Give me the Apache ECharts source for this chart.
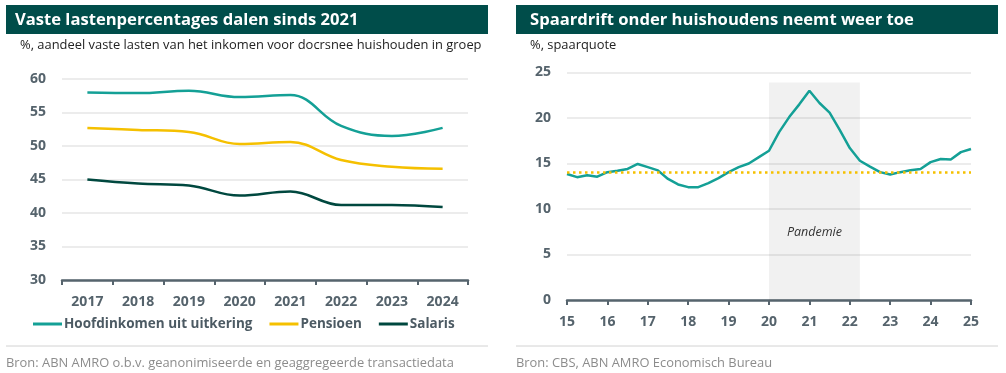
<!DOCTYPE html>
<html>
<head>
<meta charset="utf-8">
<script src="https://cdn.jsdelivr.net/npm/echarts@6/dist/echarts.min.js"></script>
<style>
html,body{margin:0;padding:0;background:#fff;}
#c{width:1006px;height:373px;}
</style>
</head>
<body>
<div id="c"></div>
<script>
// ---- Left chart data ----
var leftYears = ['2017','2018','2019','2020','2021','2022','2023','2024'];
var uitkering = [58.0, 57.9, 58.25, 57.3, 57.6, 53.0, 51.5, 52.7];
var pensioen  = [52.7, 52.4, 52.1, 50.3, 50.6, 47.9, 46.9, 46.6];
var salaris   = [45.0, 44.4, 44.1, 42.6, 43.2, 41.2, 41.2, 40.9];
var leftSeriesNames = ['Hoofdinkomen uit uitkering', 'Pensioen', 'Salaris'];

// ---- Right chart data (quarterly, 2015 K1 .. 2025 K1) ----
var rightYearLabels = ['15','16','17','18','19','20','21','22','23','24','25'];
var spaarquote = [13.85, 13.5, 13.7, 13.55, 14.05, 14.2, 14.4, 14.95, 14.6, 14.25,
                  13.3, 12.7, 12.4, 12.4, 12.85, 13.4, 14.05, 14.6, 15.0, 15.7,
                  16.4, 18.45, 20.1, 21.5, 23.0, 21.65, 20.6, 18.7, 16.7, 15.3,
                  14.65, 14.05, 13.8, 14.05, 14.25, 14.4, 15.15, 15.5, 15.45, 16.25,
                  16.6];
var gemiddelde = 14.05;
var pandemieStart = '20 K1';
var pandemieEnd = '22 K2';
var pandemieTop = 23.9;

var quarterCats = [];
rightYearLabels.forEach(function (y, i) {
  var n = (i === rightYearLabels.length - 1) ? 1 : 4;
  for (var q = 1; q <= n; q++) quarterCats.push(y + ' K' + q);
});

var FONT = '"Open Sans", sans-serif';
var TITLE_BG = '#004d4a';
var TEAL = '#14a096';
var YELLOW = '#f5c000';
var DARK = '#00483f';
var AXIS = '#56646d';
var LABEL = '#55636c';
var GRID = '#e6e6e6';

var chart = echarts.init(document.getElementById('c'), null, {renderer: 'canvas'});

var axisLabelStyle = {color: LABEL, fontFamily: FONT, fontWeight: 'bold', fontSize: 14};

chart.setOption({
  animation: false,
  textStyle: {fontFamily: FONT},
  grid: [
    {left: 62, top: 79, width: 406, height: 201, containLabel: false},
    {left: 567, top: 72.5, width: 404, height: 227.5, containLabel: false}
  ],
  legend: {
    left: 28, top: 312,
    icon: 'rect', itemWidth: 29, itemHeight: 3, itemGap: 17,
    textStyle: {color: '#4c5a63', fontFamily: FONT, fontWeight: 'bold', fontSize: 13.5, padding: [0, 0, 0, -3]},
    data: leftSeriesNames
  },
  xAxis: [
    {
      type: 'category', gridIndex: 0, data: leftYears, boundaryGap: true,
      axisLine: {show: true, lineStyle: {color: AXIS, width: 2.5}},
      axisTick: {show: true, length: 5, lineStyle: {color: AXIS, width: 2}},
      axisLabel: Object.assign({margin: 15}, axisLabelStyle)
    },
    {
      type: 'category', gridIndex: 1, data: quarterCats, boundaryGap: false,
      axisLine: {show: true, lineStyle: {color: AXIS, width: 2.5}},
      axisTick: {show: true, length: 5, lineStyle: {color: AXIS, width: 2},
        interval: function (i) { return i % 4 === 0; }},
      axisLabel: Object.assign({margin: 15,
        interval: function (i) { return i % 4 === 0; },
        formatter: function (v) { return v.split(' ')[0]; }}, axisLabelStyle)
    }
  ],
  yAxis: [
    {
      type: 'value', gridIndex: 0, min: 30, max: 60, interval: 5,
      axisLine: {show: false}, axisTick: {show: false},
      splitLine: {lineStyle: {color: GRID, width: 1.5}},
      axisLabel: Object.assign({margin: 16}, axisLabelStyle)
    },
    {
      type: 'value', gridIndex: 1, min: 0, max: 25, interval: 5,
      axisLine: {show: false}, axisTick: {show: false},
      splitLine: {lineStyle: {color: GRID, width: 1.5}},
      axisLabel: Object.assign({margin: 16}, axisLabelStyle)
    }
  ],
  series: [
    {name: leftSeriesNames[0], type: 'line', xAxisIndex: 0, yAxisIndex: 0, data: uitkering,
     smooth: 0.4, showSymbol: false, lineStyle: {color: TEAL, width: 2.5}, itemStyle: {color: TEAL}},
    {name: leftSeriesNames[1], type: 'line', xAxisIndex: 0, yAxisIndex: 0, data: pensioen,
     smooth: 0.4, showSymbol: false, lineStyle: {color: YELLOW, width: 2.5}, itemStyle: {color: YELLOW}},
    {name: leftSeriesNames[2], type: 'line', xAxisIndex: 0, yAxisIndex: 0, data: salaris,
     smooth: 0.4, showSymbol: false, lineStyle: {color: DARK, width: 2.5}, itemStyle: {color: DARK}},
    {name: 'Spaarquote', type: 'line', xAxisIndex: 1, yAxisIndex: 1, data: spaarquote,
     showSymbol: false, lineStyle: {color: TEAL, width: 2.5}, itemStyle: {color: TEAL}, z: 3,
     markArea: {
       silent: true,
       itemStyle: {color: 'rgba(0,0,0,0.055)'},
       label: {show: true, position: 'insideBottom', distance: 61, fontStyle: 'italic',
               fontSize: 12.5, color: '#333', fontFamily: FONT},
       data: [[{name: 'Pandemie', xAxis: pandemieStart, yAxis: 0},
               {xAxis: pandemieEnd, yAxis: pandemieTop}]]
     },
     markLine: {
       silent: true, symbol: 'none', label: {show: false},
       lineStyle: {color: YELLOW, width: 2.5, type: [2.5, 3.5]},
       data: [{yAxis: gemiddelde}]
     }
    }
  ],
  graphic: [
    {type: 'rect', shape: {x: 6, y: 5, width: 482, height: 29}, style: {fill: TITLE_BG}, z: 0},
    {type: 'rect', shape: {x: 516, y: 5, width: 482, height: 29}, style: {fill: TITLE_BG}, z: 0},
    {type: 'text', x: 15, y: 20, z: 1, style: {text: 'Vaste lastenpercentages dalen sinds 2021',
      fill: '#fff', font: 'bold 16.6px ' + FONT, verticalAlign: 'middle', textVerticalAlign: 'middle'}},
    {type: 'text', x: 530, y: 20, z: 1, style: {text: 'Spaardrift onder huishoudens neemt weer toe',
      fill: '#fff', font: 'bold 16.6px ' + FONT, verticalAlign: 'middle', textVerticalAlign: 'middle'}},
    {type: 'text', x: 20, y: 45, z: 1, style: {text: '%, aandeel vaste lasten van het inkomen voor docrsnee huishouden in groep',
      fill: '#222', font: '12.9px ' + FONT, verticalAlign: 'middle', textVerticalAlign: 'middle'}},
    {type: 'text', x: 530, y: 45, z: 1, style: {text: '%, spaarquote',
      fill: '#222', font: '12.9px ' + FONT, verticalAlign: 'middle', textVerticalAlign: 'middle'}},
    {type: 'line', shape: {x1: 6, y1: 346, x2: 488, y2: 346}, style: {stroke: '#d2d2d2', lineWidth: 1}},
    {type: 'line', shape: {x1: 516, y1: 346, x2: 998, y2: 346}, style: {stroke: '#d2d2d2', lineWidth: 1}},
    {type: 'text', x: 6, y: 363, z: 1, style: {text: 'Bron: ABN AMRO o.b.v. geanonimiseerde en geaggregeerde transactiedata',
      fill: '#8c8c8c', font: '12.9px ' + FONT, verticalAlign: 'middle', textVerticalAlign: 'middle'}},
    {type: 'text', x: 516, y: 363, z: 1, style: {text: 'Bron: CBS, ABN AMRO Economisch Bureau',
      fill: '#8c8c8c', font: '12.9px ' + FONT, verticalAlign: 'middle', textVerticalAlign: 'middle'}}
  ]
});
</script>
</body>
</html>
